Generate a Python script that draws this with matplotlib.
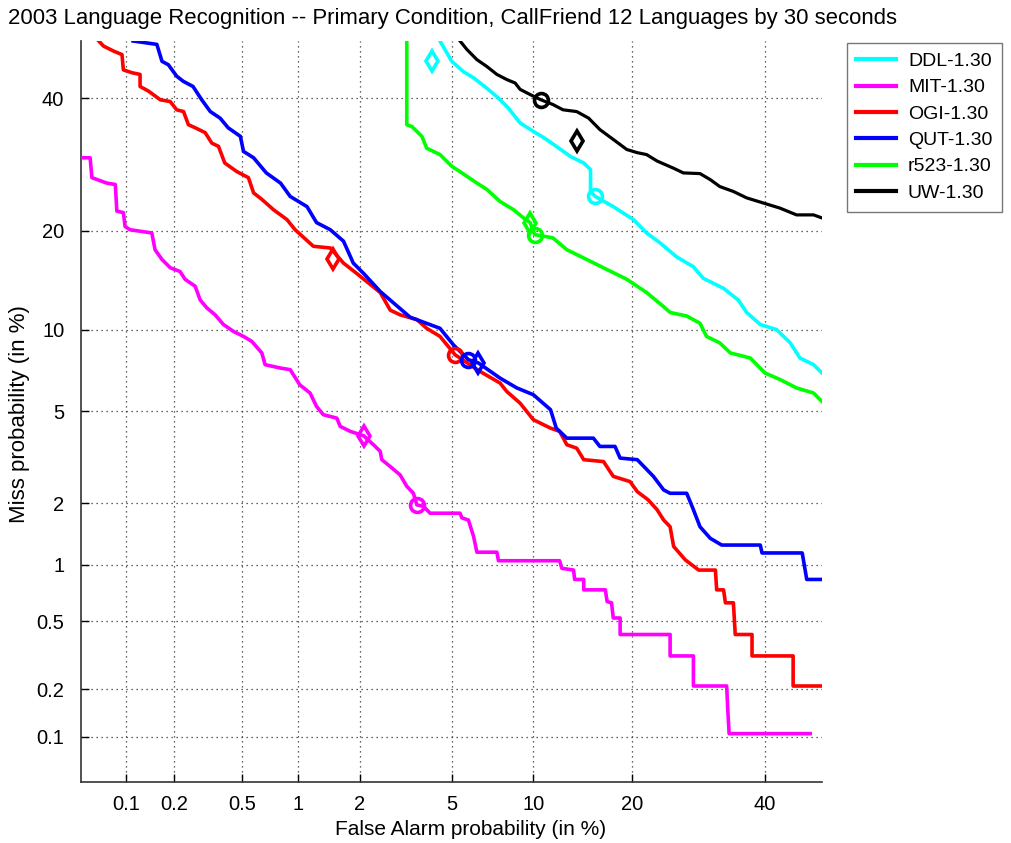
import math
import numpy as np
import matplotlib
matplotlib.use("Agg")
import matplotlib.pyplot as plt

plt.rcParams['font.family'] = ['Liberation Sans', 'DejaVu Sans']

# ---------------- data (percent) ----------------
systems = ["DDL-1.30", "MIT-1.30", "OGI-1.30", "QUT-1.30", "r523-1.30", "UW-1.30"]
colors = ["#00ffff", "#ff00ff", "#ff0000", "#0000ff", "#00ff00", "#000000"]

ddl_fa = [4.49, 5.01, 5.56, 6.09, 6.83, 7.54, 8.18, 9.0, 10.0, 10.9, 11.9, 13.2, 14.5, 15.2, 15.2, 15.7,
          17.7, 20.1, 21.8, 23.6, 25.9, 28.4, 29.9, 33.1, 35.5, 36.9, 39.2, 42.0, 44.4, 46.1, 48.5, 50]
ddl_miss = [50, 46.4, 44.6, 43.5, 41.7, 40.0, 38.3, 35.8, 34.4, 33.3, 32.0, 30.4, 29.4, 28.4, 25.2, 24.5,
            23.1, 21.4, 19.7, 18.5, 16.9, 15.8, 14.6, 13.6, 12.5, 11.4, 10.4, 10.0, 9.0, 7.96, 7.53, 7.02]

mit_fa = [0.0507, 0.0577, 0.0593, 0.0747, 0.085, 0.087, 0.096, 0.0985, 0.106, 0.146, 0.153, 0.169, 0.19,
          0.218, 0.234, 0.269, 0.288, 0.315, 0.352, 0.393, 0.448, 0.51, 0.567, 0.643, 0.67, 0.81, 0.91,
          1.02, 1.15, 1.24, 1.34, 1.56, 1.62, 1.81, 2.09, 2.32, 2.49, 2.53, 2.76, 3.05, 3.26, 3.48, 3.60,
          3.84, 4.09, 5.40, 5.49, 5.82, 6.09, 6.27, 7.44, 7.54, 12.2, 12.4, 13.5, 13.6, 14.5, 14.5, 16.8,
          17.0, 17.5, 17.7, 18.5, 18.5, 25.0, 25.0, 28.4, 28.4, 33.6, 33.8, 34.0, 47.9]
mit_miss = [30.2, 30.2, 27.2, 26.4, 26.2, 22.5, 22.3, 20.5, 20.1, 19.7, 17.7, 16.6, 15.7, 15.3, 14.5,
            13.8, 12.5, 11.8, 11.2, 10.4, 9.86, 9.48, 9.11, 8.30, 7.53, 7.32, 7.22, 6.34, 5.90, 5.23,
            4.85, 4.70, 4.35, 4.15, 3.98, 3.65, 3.42, 3.15, 2.94, 2.70, 2.40, 2.23, 1.97, 1.94, 1.80,
            1.80, 1.71, 1.67, 1.39, 1.16, 1.16, 1.05, 1.05, 0.96, 0.94, 0.84, 0.84, 0.74, 0.74, 0.64,
            0.63, 0.52, 0.52, 0.42, 0.42, 0.316, 0.316, 0.209, 0.209, 0.145, 0.105, 0.105]

ogi_fa = [0.066, 0.071, 0.083, 0.094, 0.096, 0.109, 0.123, 0.123, 0.139, 0.165, 0.19, 0.208, 0.229,
          0.245, 0.269, 0.308, 0.337, 0.368, 0.40, 0.468, 0.543, 0.58, 0.643, 0.742, 0.874, 0.965,
          1.195, 1.45, 1.68, 1.94, 2.49, 2.76, 3.05, 3.6, 3.96, 4.49, 5.16, 6.45, 7.64, 8.08, 9.0,
          10.0, 11.4, 12.2, 12.86, 13.8, 14.5, 16.6, 17.7, 19.7, 20.6, 22.0, 23.2, 24.1, 25.0, 25.5,
          27.2, 29.2, 31.8, 32.0, 33.1, 33.4, 34.7, 35.0, 37.8, 37.8, 44.9, 44.9, 50]
ogi_miss = [50, 49.1, 48.2, 47.6, 44.9, 44.4, 44.1, 42.0, 41.2, 39.7, 39.4, 38.0, 37.7, 35.5, 35.0,
            34.2, 32.5, 32.0, 29.4, 28.1, 27.2, 25.0, 24.1, 22.7, 21.4, 20.1, 18.1, 17.9, 16.2, 15.1,
            13.2, 11.6, 11.2, 10.8, 10.1, 9.48, 8.18, 7.11, 6.44, 5.98, 5.39, 4.63, 4.28, 4.15, 3.65,
            3.53, 3.15, 3.09, 2.66, 2.52, 2.27, 2.08, 1.87, 1.67, 1.55, 1.24, 1.06, 0.94, 0.94, 0.74,
            0.74, 0.63, 0.63, 0.42, 0.42, 0.316, 0.316, 0.209, 0.209]

qut_fa = [0.111, 0.157, 0.169, 0.185, 0.208, 0.228, 0.261, 0.294, 0.33, 0.376, 0.418, 0.49, 0.51,
          0.58, 0.68, 0.81, 0.91, 1.11, 1.24, 1.45, 1.68, 1.87, 2.09, 2.49, 3.37, 4.49, 5.08, 5.82,
          6.35, 7.64, 8.77, 10.0, 11.4, 11.9, 12.86, 15.5, 16.2, 17.9, 18.5, 20.6, 22.7, 24.1, 25.0,
          27.4, 28.4, 29.4, 31.0, 32.8, 39.2, 39.5, 46.5, 47.3, 50]
qut_miss = [50, 49.4, 46.4, 45.8, 43.8, 42.9, 42.0, 39.7, 37.7, 36.6, 35.0, 33.6, 31.2, 30.2, 27.9,
            26.4, 24.5, 23.1, 21.0, 20.1, 18.7, 16.2, 15.1, 13.3, 11.0, 10.1, 8.87, 7.85, 7.64, 6.72,
            6.17, 5.81, 5.08, 4.28, 3.89, 3.89, 3.59, 3.59, 3.20, 3.15, 2.66, 2.31, 2.23, 2.23, 1.87,
            1.55, 1.36, 1.26, 1.26, 1.15, 1.15, 0.84, 0.84]

r523_fa = [3.26, 3.26, 3.43, 3.78, 3.96, 4.49, 5.01, 5.49, 6.27, 6.83, 7.64, 8.53, 9.25, 9.75, 10.1,
           11.6, 12.86, 14.8, 17.0, 19.3, 21.8, 24.1, 25.0, 27.4, 29.4, 30.4, 32.5, 34.2, 37.5, 40.0,
           42.6, 45.5, 48.5, 50]
r523_miss = [50, 35.5, 35.2, 33.6, 31.7, 30.7, 28.9, 27.9, 26.4, 25.5, 23.8, 22.7, 21.6, 21.0, 19.5,
             19.1, 17.7, 16.6, 15.5, 14.5, 13.2, 11.9, 11.4, 11.1, 10.5, 9.48, 9.0, 8.30, 7.96, 7.02,
             6.64, 6.17, 5.90, 5.47]

uw_fa = [5.40, 5.74, 6.27, 6.83, 7.44, 8.08, 8.65, 9.0, 9.75, 10.6, 11.6, 12.5, 13.8, 15.0, 16.2, 17.7,
         19.3, 20.6, 21.8, 23.2, 25.5, 26.9, 29.4, 31.0, 32.5, 34.7, 36.9, 39.7, 42.6, 45.5, 48.5, 50]
uw_miss = [50, 48.5, 46.7, 45.5, 44.1, 43.2, 42.6, 41.5, 40.6, 39.7, 38.9, 38.0, 37.7, 36.6, 34.7,
           33.1, 31.5, 31.0, 30.7, 29.7, 28.6, 27.9, 27.8, 26.9, 25.9, 25.2, 24.3, 23.6, 22.9, 22.0,
           22.0, 21.6]

# operating points: (fa, miss) for circle (min cost) and diamond (actual decision)
circle_fa = [15.7, 3.60, 5.16, 5.82, 10.1, 10.6]
circle_miss = [24.5, 1.97, 8.18, 7.85, 19.5, 39.7]
diamond_fa = [4.16, 2.09, 1.50, 6.35, 9.75, 13.8]
diamond_miss = [46.4, 3.98, 16.6, 7.64, 21.0, 32.8]

tick_vals = [0.1, 0.2, 0.5, 1, 2, 5, 10, 20, 40]
tick_labels = ["0.1", "0.2", "0.5", "1", "2", "5", "10", "20", "40"]

# ---------------- probit scale ----------------
def _ppf(p):
    p = np.asarray(p, dtype=float)
    a = [-3.969683028665376e+01, 2.209460984245205e+02, -2.759285104469687e+02,
         1.383577518672690e+02, -3.066479806614716e+01, 2.506628277459239e+00]
    b = [-5.447609879822406e+01, 1.615858368580409e+02, -1.556989798598866e+02,
         6.680131188771972e+01, -1.328068155288572e+01]
    c = [-7.784894002430293e-03, -3.223964580411365e-01, -2.400758277161838e+00,
         -2.549671348593356e+00, 4.374664141464968e+00, 2.938163982698783e+00]
    d = [7.784695709041462e-03, 3.224671290700398e-01, 2.445134137142996e+00,
         3.754408661907416e+00]
    plow = 0.02425
    out = np.empty_like(p)
    lo = p < plow
    hi = p > 1 - plow
    mid = ~(lo | hi)
    q = np.sqrt(-2 * np.log(p[lo]))
    out[lo] = (((((c[0]*q+c[1])*q+c[2])*q+c[3])*q+c[4])*q+c[5]) / ((((d[0]*q+d[1])*q+d[2])*q+d[3])*q+1)
    q = p[mid] - 0.5
    r = q*q
    out[mid] = (((((a[0]*r+a[1])*r+a[2])*r+a[3])*r+a[4])*r+a[5])*q / (((((b[0]*r+b[1])*r+b[2])*r+b[3])*r+b[4])*r+1)
    q = np.sqrt(-2 * np.log(1 - p[hi]))
    out[hi] = -(((((c[0]*q+c[1])*q+c[2])*q+c[3])*q+c[4])*q+c[5]) / ((((d[0]*q+d[1])*q+d[2])*q+d[3])*q+1)
    return out

_erf = np.vectorize(math.erf)

def fwd(v):
    v = np.asarray(v, dtype=float)
    p = np.clip(v / 100.0, 1e-9, 1 - 1e-9)
    return _ppf(p)

def inv(z):
    z = np.asarray(z, dtype=float)
    return 100.0 * 0.5 * (1 + _erf(z / math.sqrt(2)))

# ---------------- figure ----------------
fig = plt.figure(figsize=(10.11, 8.43), dpi=100)
ax = fig.add_axes([81/1011, 61/843, 741/1011, 741/843])
ax.set_xscale('function', functions=(fwd, inv))
ax.set_yscale('function', functions=(fwd, inv))
ax.set_xlim(0.05, 50)
ax.set_ylim(0.05, 50)

series = [(ddl_fa, ddl_miss), (mit_fa, mit_miss), (ogi_fa, ogi_miss),
          (qut_fa, qut_miss), (r523_fa, r523_miss), (uw_fa, uw_miss)]
for i, (fa, miss) in enumerate(series):
    lw = 2.3 if colors[i] == "#000000" else 2.6
    ax.plot(fa, miss, color=colors[i], lw=lw, label=systems[i], zorder=3)
    ax.plot(circle_fa[i], circle_miss[i], marker='o', ms=10, mfc='none', mec=colors[i],
            mew=2.6, ls='none', zorder=4)
    ax.plot(diamond_fa[i], diamond_miss[i], marker='d', ms=10, mfc='none', mec=colors[i],
            mew=2.6, ls='none', zorder=4)

ax.set_xticks(tick_vals)
ax.set_xticklabels(tick_labels)
ax.set_yticks(tick_vals)
ax.set_yticklabels(tick_labels)
ax.minorticks_off()
ax.tick_params(direction='in', length=6, width=1, labelsize=14.5, colors='black')
ax.tick_params(axis='x', pad=9)
ax.tick_params(axis='y', pad=12)
ax.grid(True, linestyle=(0, (1, 3)), color='#333333', lw=0.9)
ax.set_axisbelow(True)
for s in ['top', 'right']:
    ax.spines[s].set_visible(False)
for s in ['left', 'bottom']:
    ax.spines[s].set_linewidth(1.2)
    ax.spines[s].set_color('#333333')

ax.set_xlabel("False Alarm probability (in %)", fontsize=15)
ax.xaxis.set_label_coords(0.526, -0.051)
ax.set_ylabel("Miss probability (in %)", fontsize=16)
ax.yaxis.set_label_coords(-0.069, 0.496)
ax.set_title("2003 Language Recognition -- Primary Condition, CallFriend 12 Languages by 30 seconds",
             fontsize=15.9, loc='left', x=-0.099, pad=12)

leg = fig.legend(loc='upper left', bbox_to_anchor=(837/1011, 1 - 33/843), fontsize=14,
                 frameon=True, fancybox=False, edgecolor='#555555', handlelength=2.05,
                 borderpad=0.5, labelspacing=0.45, handletextpad=0.6)
leg.get_frame().set_linewidth(1.0)
for h in leg.get_lines():
    h.set_linewidth(3)

fig.savefig("out.png", dpi=100)
